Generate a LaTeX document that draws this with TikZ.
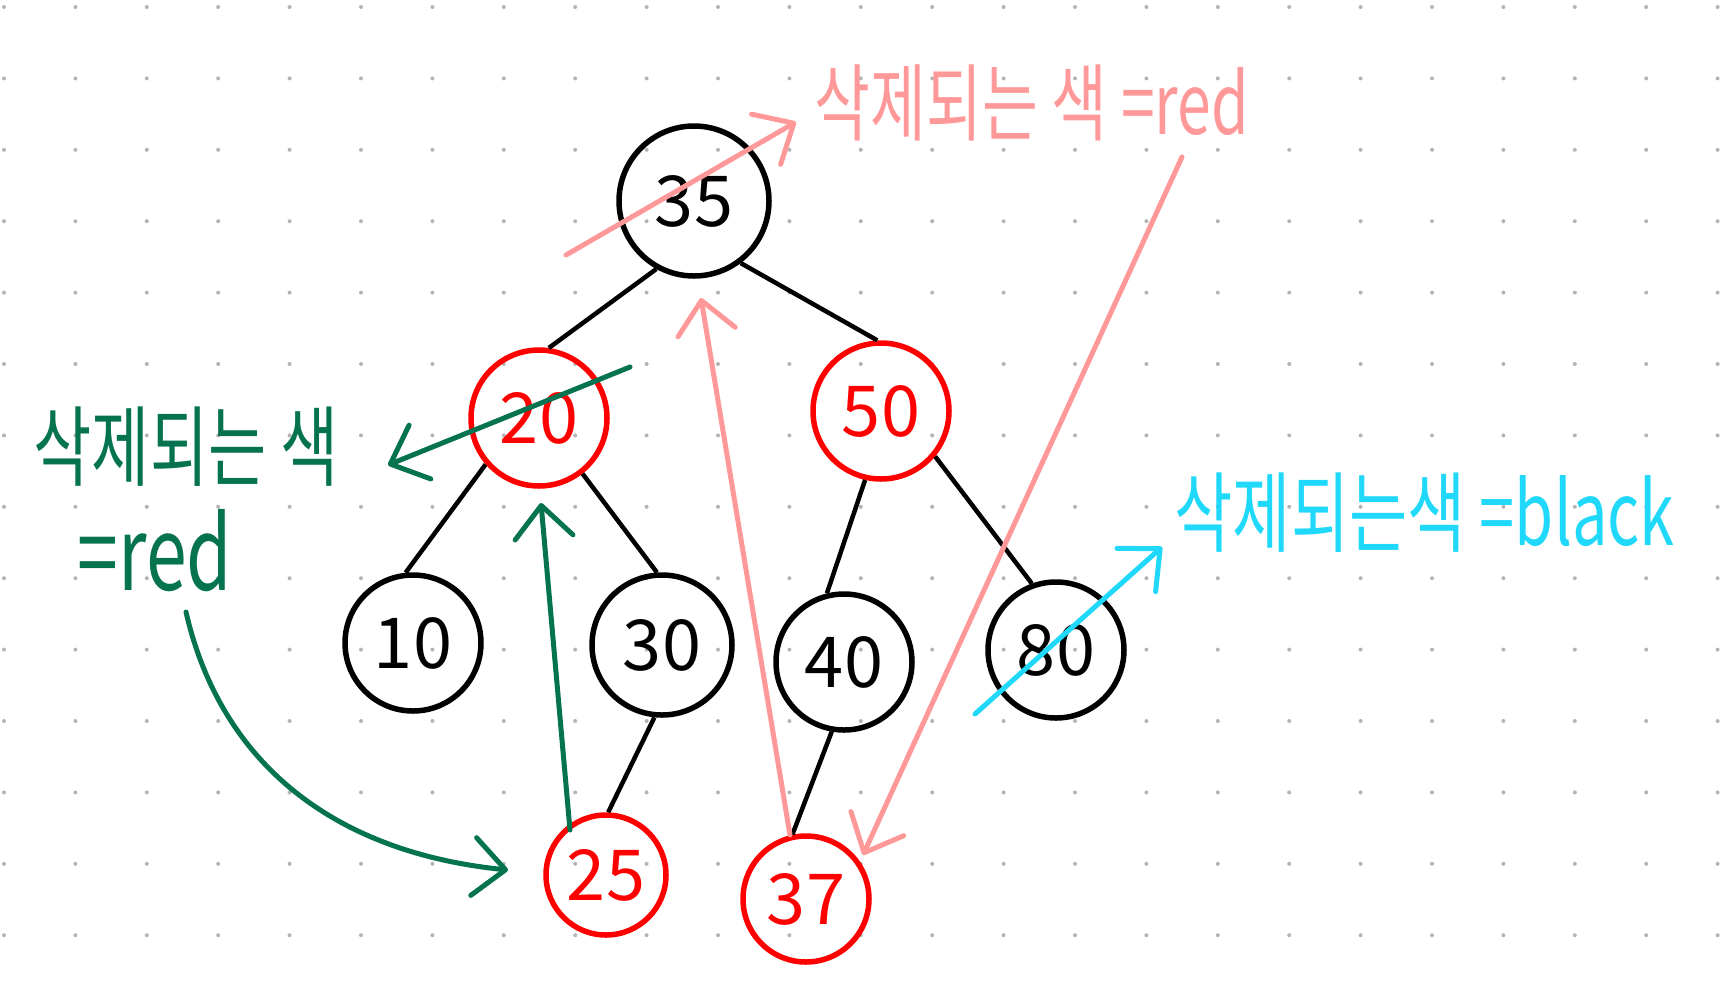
\documentclass[tikz,border=0pt]{standalone}
\usepackage{fontspec}
\setmainfont{Noto Sans CJK KR}
\newfontfamily\narrowfont[FakeStretch=0.72]{Noto Sans CJK KR}
\usetikzlibrary{arrows.meta}
\definecolor{pinkline}{HTML}{FF9999}
\definecolor{greenline}{HTML}{067350}
\definecolor{cyanline}{HTML}{1FD8FA}
\definecolor{dotgray}{HTML}{B4B4B4}

\begin{document}
\begin{tikzpicture}[x=0.1mm,y=-0.1mm,
    blacknode/.style={circle,draw=black,line width=0.55mm,inner sep=0pt,font=\fontsize{20}{24}\selectfont},
    rednode/.style={blacknode,draw=red,text=red},
    treeedge/.style={line width=0.45mm},
    note/.style={line width=0.5mm,line cap=round,-{Straight Barb[length=3.2mm,width=5.8mm,round]}},
    notetext/.style={inner sep=0pt,font=\narrowfont\fontsize{24}{28}\selectfont}]
    \useasboundingbox[fill=white] (0,0) rectangle (1730,1000);
    \foreach \i in {0,...,24}
        \foreach \j in {0,...,13}
            \fill[dotgray] (4+71.4*\i,7+71.4*\j) circle[radius=0.2mm];

    \node[blacknode,minimum size=15mm] (n35) at (694,201) {35};
    \node[rednode,minimum size=13.6mm] (n20) at (539,418) {20};
    \node[rednode,minimum size=13.6mm] (n50) at (881,411) {50};
    \node[blacknode,minimum size=13.6mm] (n10) at (413,643) {10};
    \node[blacknode,minimum size=14mm] (n30) at (662,645) {30};
    \node[blacknode,minimum size=13.6mm] (n40) at (844,662) {40};
    \node[blacknode,minimum size=13.6mm] (n80) at (1056,650) {80};
    \node[rednode,minimum size=12mm] (n25) at (606,875) {25};
    \node[rednode,minimum size=12.6mm] (n37) at (806,899) {37};

    \draw[treeedge] (n35.241) -- (n20.82);
    \draw[treeedge] (n35.307) -- (n50.93);
    \draw[treeedge] (n20.221) -- (n10.96);
    \draw[treeedge] (n20.308) -- (n30.94);
    \draw[treeedge] (n30.264) -- (n25.88);
    \draw[treeedge] (n50.257) -- (n40.104);
    \draw[treeedge] (n50.320) -- (n80.110);
    \draw[treeedge] (n40.260) -- (n37.102);

    \node[notetext,text=pinkline,anchor=west] (pinktext) at (814,103) {삭제되는 색 =red};
    \node[notetext,text=greenline,anchor=west,font=\narrowfont\fontsize{25}{29}\selectfont] (greentext) at (33,447) {삭제되는 색};
    \node[notetext,text=greenline,anchor=base west,font=\narrowfont\fontsize{29}{32}\selectfont] (greenred) at (77,590) {=red};
    \node[notetext,text=cyanline,anchor=west,font=\narrowfont\fontsize{25}{29}\selectfont] (cyantext) at (1174,513) {삭제되는색 =black};

    \coordinate (p1s) at (566,255);
    \coordinate (p1e) at (796,122);
    \coordinate (p2s) at (1182,157);
    \coordinate (p2e) at (863,855);
    \coordinate (p3s) at (790,835);
    \coordinate (p3e) at (701,298);
    \coordinate (g1s) at (630,367);
    \coordinate (g1e) at (388,465);
    \coordinate (g2s) at (186,612);
    \coordinate (g2e) at (508,870);
    \coordinate (g3s) at (570,830);
    \coordinate (g3e) at (541,503);
    \coordinate (c1s) at (975,714);
    \coordinate (c1e) at (1162,547);

    \draw[note,pinkline] (p1s) -- (p1e);
    \draw[note,pinkline] (p2s) -- (p2e);
    \draw[note,pinkline] (p3s) -- (p3e);
    \draw[note,greenline] (g1s) -- (g1e);
    \draw[note,greenline] (g2s) .. controls (220,760) and (330,852) .. (g2e);
    \draw[note,greenline] (g3s) -- (g3e);
    \draw[note,cyanline] (c1s) -- (c1e);
\end{tikzpicture}
\end{document}
